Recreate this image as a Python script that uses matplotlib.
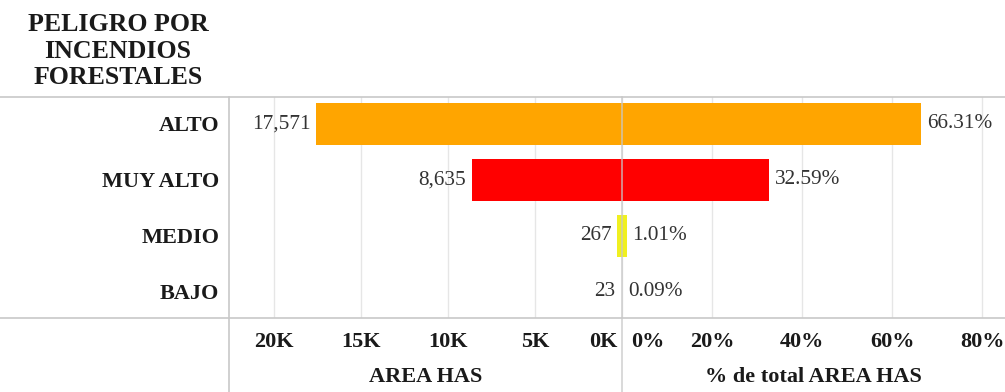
import matplotlib
matplotlib.use("Agg")
import matplotlib.pyplot as plt
from matplotlib.lines import Line2D
from matplotlib.transforms import offset_copy

# Data
categories = ["ALTO", "MUY ALTO", "MEDIO", "BAJO"]
area_has = [17571, 8635, 267, 23]
pct_total = [66.31, 32.59, 1.01, 0.09]
bar_colors = ["#FFA500", "#FF0000", "#F0F020", "#3CB043"]
area_ticks = [20000, 15000, 10000, 5000, 0]
area_tick_labels = ["20K", "15K", "10K", "5K", "0K"]
pct_ticks = [0, 20, 40, 60, 80]
pct_tick_labels = ["0%", "20%", "40%", "60%", "80%"]

plt.rcParams["font.family"] = ["Liberation Serif", "DejaVu Serif"]

W, H = 1005, 392
fig = plt.figure(figsize=(W / 100, H / 100), dpi=100)
fig.patch.set_facecolor("white")


def fx(px):
    return px / W


def fy(py):
    return 1 - py / H


X_LEFT, X_MID, X_RIGHT = 229, 622, 1005
Y_TOP, Y_BOT = 97, 318
plot_h = (Y_BOT - Y_TOP) / H

ax_l = fig.add_axes([fx(X_LEFT), fy(Y_BOT), (X_MID - X_LEFT) / W, plot_h])
ax_r = fig.add_axes([fx(X_MID), fy(Y_BOT), (X_RIGHT - X_MID) / W, plot_h])

ypos = list(range(len(categories)))
BAR_H = 0.75
TEXT_DARK = "#1a1a1a"
VALUE_COL = "#333333"
GRID_COL = "#e6e6e6"
LINE_COL = "#c8c8c8"
LABEL_FS = 16
VALUE_FS = 15.3

ax_l.barh(ypos, area_has, height=BAR_H, color=bar_colors, zorder=2)
ax_r.barh(ypos, pct_total, height=BAR_H, color=bar_colors, zorder=2)

ax_l.set_xlim(22600, 0)
ax_r.set_xlim(0, 85)
for ax in (ax_l, ax_r):
    ax.set_ylim(3.47, -0.48)
    for s in ax.spines.values():
        s.set_visible(False)
    ax.grid(axis="x", color=GRID_COL, lw=1, zorder=0)
    ax.tick_params(axis="both", length=0, labelbottom=False)
    ax.set_facecolor("none")

ax_l.set_xticks(area_ticks)
ax_r.set_xticks(pct_ticks)

ax_l.set_yticks(ypos, categories)
ax_l.tick_params(axis="y", pad=7)
for lab in ax_l.get_yticklabels():
    lab.set_fontweight("bold")
    lab.set_fontsize(LABEL_FS)
    lab.set_color(TEXT_DARK)
ax_r.set_yticks([])

# Value labels
for i, v in enumerate(area_has):
    ax_l.text(v, i, f"{v:,}", ha="right", va="center", fontsize=VALUE_FS, color=VALUE_COL,
              transform=offset_copy(ax_l.transData, fig=fig, x=-6, y=0, units="dots"))
for i, p in enumerate(pct_total):
    ax_r.text(p, i, f"{p:.2f}%", ha="left", va="center", fontsize=VALUE_FS, color=VALUE_COL,
              transform=offset_copy(ax_r.transData, fig=fig, x=6, y=0, units="dots"))

# Tick labels below the panels
tick_y = -(342 - Y_BOT) / (Y_BOT - Y_TOP)
for v, lab in zip(area_ticks, area_tick_labels):
    if v == 0:
        tr = offset_copy(ax_l.get_xaxis_transform(), fig=fig, x=-5, y=0, units="dots")
        ha = "right"
    else:
        tr = ax_l.get_xaxis_transform()
        ha = "center"
    ax_l.text(v, tick_y, lab, ha=ha, va="center", fontsize=LABEL_FS, fontweight="bold",
              color=TEXT_DARK, transform=tr, clip_on=False)
for v, lab in zip(pct_ticks, pct_tick_labels):
    if v == 0:
        tr = offset_copy(ax_r.get_xaxis_transform(), fig=fig, x=9, y=0, units="dots")
        ha = "left"
    else:
        tr = ax_r.get_xaxis_transform()
        ha = "center"
    ax_r.text(v, tick_y, lab, ha=ha, va="center", fontsize=LABEL_FS, fontweight="bold",
              color=TEXT_DARK, transform=tr, clip_on=False)

# Axis titles
fig.text(fx((X_LEFT + X_MID) / 2), fy(377), "AREA HAS", ha="center", va="center",
         fontsize=LABEL_FS, fontweight="bold", color=TEXT_DARK)
fig.text(fx((X_MID + X_RIGHT) / 2), fy(377), "% de total AREA HAS", ha="center", va="center",
         fontsize=LABEL_FS, fontweight="bold", color=TEXT_DARK)

# Header
fig.text(fx(118), fy(51), "PELIGRO POR\nINCENDIOS\nFORESTALES", ha="center", va="center",
         multialignment="center", fontsize=18.6, fontweight="bold", color=TEXT_DARK,
         linespacing=1.22)

# Frame lines
for yy in (Y_TOP, Y_BOT):
    fig.add_artist(Line2D([0, 1], [fy(yy), fy(yy)], transform=fig.transFigure,
                          color=LINE_COL, lw=1.2, zorder=5))
fig.add_artist(Line2D([fx(X_LEFT), fx(X_LEFT)], [fy(Y_TOP), 0], transform=fig.transFigure,
                      color=LINE_COL, lw=1.2, zorder=5))
fig.add_artist(Line2D([fx(X_MID), fx(X_MID)], [fy(Y_TOP), 0], transform=fig.transFigure,
                      color=LINE_COL, lw=1.2, alpha=0.8, zorder=5))

fig.savefig("out.png", dpi=100, facecolor="white")
